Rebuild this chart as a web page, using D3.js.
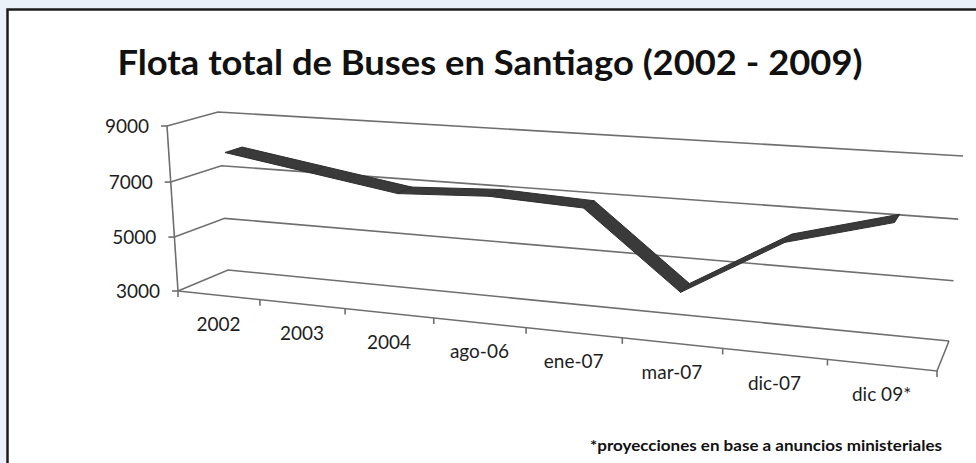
<!DOCTYPE html>
<html>
<head>
<meta charset="utf-8">
<script src="https://cdn.jsdelivr.net/npm/d3@7"></script>
<style>
  html, body { margin: 0; padding: 0; background: #eaf1f9; }
  svg { display: block; }
</style>
</head>
<body>
<svg id="chart" width="976" height="463"></svg>
<script>

const title = "Flota total de Buses en Santiago (2002 - 2009)"
const footnote = "*proyecciones en base a anuncios ministeriales"
const categories = ["2002", "2003", "2004", "ago-06", "ene-07", "mar-07", "dic-07", "dic 09*"]
const buses = [8000, 7500, 7000, 7150, 7000, 4450, 6400, 7300]
const yTicks = [3000, 5000, 7000, 9000]

// screen corners of the 3d box (front plane z=0, back plane z=1)
const front = [[178, 291], [937, 371], [951, 178], [167, 126]]
const back = [[228, 270], [949, 341], [963, 156], [218, 112]]
const ribbonZ = [0.3, 0.65]

function quadMap(p0, p1, p2, p3) {
    // unit square -> quad, projective
    let dx1 = p1[0] - p2[0], dx2 = p3[0] - p2[0], dx3 = p0[0] - p1[0] + p2[0] - p3[0]
    let dy1 = p1[1] - p2[1], dy2 = p3[1] - p2[1], dy3 = p0[1] - p1[1] + p2[1] - p3[1]
    let den = dx1 * dy2 - dx2 * dy1
    let g = (dx3 * dy2 - dx2 * dy3) / den
    let h = (dx1 * dy3 - dx3 * dy1) / den
    let a = p1[0] - p0[0] + g * p1[0], b = p3[0] - p0[0] + h * p3[0], c = p0[0]
    let d = p1[1] - p0[1] + g * p1[1], e = p3[1] - p0[1] + h * p3[1], f = p0[1]
    return (s, t) => {
        let w = g * s + h * t + 1
        return [(a * s + b * t + c) / w, (d * s + e * t + f) / w]
    }
}

const frontMap = quadMap(...front)
const backMap = quadMap(...back)

function proj(u, v, z) {
    let p = frontMap(u, v)
    let q = backMap(u, v)
    return [p[0] + (q[0] - p[0]) * z, p[1] + (q[1] - p[1]) * z]
}

const x = d3.scaleBand().domain(categories).range([0, 1])
const y = d3.scaleLinear().domain([3000, 9000]).range([0, 1])
const xc = c => x(c) + x.bandwidth() / 2

const svg = d3.select("#chart")
const line = d3.line()

// panel
svg.append("rect")
    .attr("x", 7.5).attr("y", 9.5)
    .attr("width", 990).attr("height", 480)
    .attr("fill", "#fff")
    .attr("stroke", "#1c1c1c")
    .attr("stroke-width", 2.5)

svg.append("text")
    .attr("x", 490).attr("y", 75)
    .attr("text-anchor", "middle")
    .attr("font-family", "Lato, 'Open Sans', sans-serif")
    .attr("font-weight", "bold")
    .attr("font-size", 34)
    .attr("textLength", 745)
    .attr("lengthAdjust", "spacingAndGlyphs")
    .attr("fill", "#111")
    .text(title)

const grid = svg.append("g")
    .attr("fill", "none")
    .attr("stroke", "#6f6f6f")
    .attr("stroke-width", 1.6)

// side wall + back wall gridlines
yTicks.forEach(t => {
    grid.append("path").attr("d", line([proj(0, y(t), 0), proj(0, y(t), 1), proj(1, y(t), 1)]))
})
// floor
grid.append("path").attr("d", line([proj(0, 0, 0), proj(1, 0, 0), proj(1, 0, 1)]))
// vertical axis
grid.append("path").attr("d", line([proj(0, 0, 0), proj(0, 1, 0)]))

// y ticks + labels
yTicks.forEach(t => {
    let p = proj(0, y(t), 0)
    grid.append("path").attr("d", line([[p[0] - 6, p[1]], p]))
    svg.append("text")
        .attr("x", p[0] - 18).attr("y", p[1])
        .attr("dy", "0.35em")
        .attr("text-anchor", "end")
        .attr("font-family", "Lato, sans-serif")
        .attr("font-size", 19)
        .attr("fill", "#1e1e1e")
        .text(t)
})

// x ticks at category boundaries
d3.range(categories.length + 1).forEach(i => {
    let p = proj(i / categories.length, 0, 0)
    grid.append("path").attr("d", line([p, [p[0], p[1] + 6]]))
})

// x labels
categories.forEach(c => {
    let p = proj(xc(c), 0, 0)
    svg.append("text")
        .attr("x", p[0]).attr("y", p[1] + 29)
        .attr("dy", "0.35em")
        .attr("text-anchor", "middle")
        .attr("font-family", "Lato, sans-serif")
        .attr("font-size", 19)
        .attr("fill", "#1e1e1e")
        .text(c)
})

// ribbon
const pts = categories.map((c, i) => ({ u: xc(c), v: y(buses[i]) }))
const segs = d3.pairs(pts)
svg.append("g")
    .selectAll("path")
    .data(segs)
    .enter()
    .append("path")
    .attr("d", ([a, b]) => line([
        proj(a.u, a.v, ribbonZ[0]), proj(b.u, b.v, ribbonZ[0]),
        proj(b.u, b.v, ribbonZ[1]), proj(a.u, a.v, ribbonZ[1])
    ]) + "Z")
    .attr("fill", "#3a3a3a")
    .attr("stroke", "#2e2e2e")
    .attr("stroke-width", 1)
    .attr("stroke-linejoin", "round")

svg.append("text")
    .attr("x", 942).attr("y", 446)
    .attr("dy", "0.35em")
    .attr("text-anchor", "end")
    .attr("font-family", "Lato, sans-serif")
    .attr("font-weight", "bold")
    .attr("font-size", 15)
    .attr("textLength", 352)
    .attr("lengthAdjust", "spacingAndGlyphs")
    .attr("fill", "#111")
    .text(footnote)

</script>
</body>
</html>
